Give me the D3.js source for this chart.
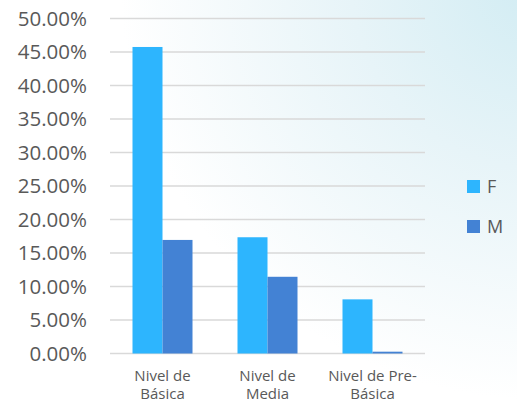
<!DOCTYPE html>
<html>
<head>
<meta charset="utf-8">
<script src="https://cdn.jsdelivr.net/npm/d3@7"></script>
<style>
  body { margin: 0; background: #fff; }
  svg { display: block; font-family: "Open Sans", sans-serif; }
</style>
</head>
<body>
<div id="chart"></div>
<script>
const categories = [["Nivel de", "Básica"], ["Nivel de", "Media"], ["Nivel de Pre-", "Básica"]];
const series = ["F", "M"];
const valuesF = [0.4575, 0.1735, 0.0808];
const valuesM = [0.1695, 0.1145, 0.0027];
const yTicks = [0, 0.05, 0.10, 0.15, 0.20, 0.25, 0.30, 0.35, 0.40, 0.45, 0.50];
const colors = { F: "#2db5fe", M: "#4382d4" };

const width = 517, height = 402;
const plot = { left: 110, right: 425, top: 18.5, bottom: 353.5 };

const svg = d3.select("#chart").append("svg").attr("width", width).attr("height", height);

// background wash, pale cyan in the top right
const defs = svg.append("defs");
const grad = defs.append("radialGradient").attr("id", "bg")
    .attr("gradientUnits", "userSpaceOnUse")
    .attr("cx", 540).attr("cy", -20).attr("r", 420);
grad.append("stop").attr("offset", "0%").attr("stop-color", "#d1ecf3");
grad.append("stop").attr("offset", "45%").attr("stop-color", "#e7f4f8");
grad.append("stop").attr("offset", "100%").attr("stop-color", "#ffffff");
svg.append("rect").attr("width", width).attr("height", height).attr("fill", "url(#bg)");

const x0 = d3.scaleBand().domain(d3.range(categories.length)).range([plot.left, plot.right]).padding(0);
const x1 = d3.scaleBand().domain(series).range([0, x0.bandwidth()]).paddingInner(0).paddingOuter(0.75);
const y = d3.scaleLinear().domain([0, 0.5]).range([plot.bottom, plot.top]);

// grid
svg.append("g")
    .selectAll("line").data(yTicks).enter().append("line")
    .attr("x1", plot.left).attr("x2", plot.right)
    .attr("y1", d => y(d)).attr("y2", d => y(d))
    .attr("stroke", "#d9d9d9").attr("stroke-width", 1.3);

// y labels
svg.append("g")
    .selectAll("text").data(yTicks).enter().append("text")
    .attr("x", 87).attr("y", d => y(d)).attr("dy", "0.36em")
    .attr("text-anchor", "end").attr("fill", "#595959")
    .style("font-size", "20.5px")
    .text(d => d3.format(".2%")(d));

// bars
const data = series.map(s => ({ key: s, values: s === "F" ? valuesF : valuesM }));
const groups = svg.append("g").selectAll("g").data(data).enter().append("g")
    .attr("fill", d => colors[d.key]);
groups.selectAll("rect").data(d => d.values.map((v, i) => ({ key: d.key, i: i, v: v }))).enter().append("rect")
    .attr("x", d => x0(d.i) + x1(d.key))
    .attr("width", x1.bandwidth())
    .attr("y", d => y(d.v))
    .attr("height", d => y(0) - y(d.v));

// category labels (two lines each)
const catG = svg.append("g").selectAll("g").data(categories).enter().append("g");
catG.selectAll("text").data(d => d).enter().append("text")
    .attr("x", function() { return x0(categories.indexOf(d3.select(this.parentNode).datum())) + x0.bandwidth() / 2; })
    .attr("y", (d, i) => 381 + i * 18)
    .attr("text-anchor", "middle").attr("fill", "#595959")
    .style("font-size", "15px")
    .text(d => d);

// legend
const legend = svg.append("g").selectAll("g").data(series).enter().append("g")
    .attr("transform", (d, i) => "translate(467," + (180 + i * 40) + ")");
legend.append("rect").attr("width", 13).attr("height", 13).attr("fill", d => colors[d]);
legend.append("text").attr("x", 20).attr("y", 6.5).attr("dy", "0.36em")
    .attr("fill", "#595959").style("font-size", "18px").text(d => d);
</script>
</body>
</html>
